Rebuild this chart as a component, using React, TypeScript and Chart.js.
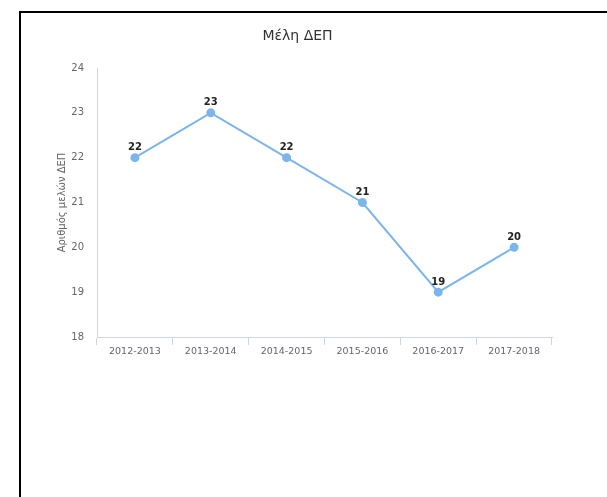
import React, { useEffect, useRef } from "react";
import { Chart, registerables } from "chart.js";

Chart.register(...registerables);

const categories = ["2012-2013", "2013-2014", "2014-2015", "2015-2016", "2016-2017", "2017-2018"];
const members = [22, 23, 22, 21, 19, 20];
const chartTitle = "Μέλη ΔΕΠ";
const yAxisTitle = "Αριθμός μελών ΔΕΠ";
const yMin = 18;
const yMax = 24;

const FONT = "'DejaVu Sans', Verdana, sans-serif";

const dataLabels = {
  id: "dataLabels",
  afterDatasetsDraw(chart: any) {
    const ctx = chart.ctx;
    const meta = chart.getDatasetMeta(0);
    const ds = chart.data.datasets[0];
    ctx.save();
    ctx.font = `bold 10px ${FONT}`;
    ctx.fillStyle = "#222";
    ctx.textAlign = "center";
    ctx.textBaseline = "middle";
    meta.data.forEach((pt: any, i: number) => {
      ctx.fillText(String(ds.data[i]), pt.x, pt.y - 10);
    });
    ctx.restore();
  },
};

const titlePlugin = {
  id: "customTitle",
  afterDraw(chart: any) {
    const ctx = chart.ctx;
    ctx.save();
    ctx.font = `14px ${FONT}`;
    ctx.fillStyle = "#333";
    ctx.textAlign = "center";
    ctx.textBaseline = "middle";
    ctx.fillText(chartTitle, 297.5, 36);
    ctx.restore();
  },
};

export default function App() {
  const ref = useRef<HTMLCanvasElement | null>(null);
  useEffect(() => {
    if (!ref.current) return;
    const chart = new Chart(ref.current, {
      type: "line",
      data: {
        labels: categories,
        datasets: [
          {
            data: members,
            borderColor: "#7cb5ec",
            backgroundColor: "#7cb5ec",
            pointBackgroundColor: "#7cb5ec",
            pointBorderColor: "#7cb5ec",
            pointRadius: 3.5,
            borderWidth: 2,
            tension: 0,
          },
        ],
      },
      options: {
        responsive: false,
        animation: false,
        layout: { padding: { left: 50, right: 55, top: 68, bottom: 120 } },
        plugins: {
          legend: { display: false },
          tooltip: { enabled: false },
          title: { display: false },
        },
        scales: {
          x: {
            type: "category",
            offset: true,
            grid: {
              offset: true,
              drawOnChartArea: false,
              drawTicks: true,
              tickLength: 8,
              color: "#ccd6eb",
            },
            border: { display: true, color: "#ccd6eb", width: 1 },
            ticks: {
              color: "#666",
              font: { family: FONT, size: 9.5 },
              padding: 1,
              maxRotation: 0,
              autoSkip: false,
            },
            afterFit(scale: any) {
              scale.height = 40;
            },
          },
          y: {
            min: yMin,
            max: yMax,
            grid: { display: false, drawTicks: false },
            border: { display: true, color: "#ccd6eb", width: 1 },
            ticks: {
              stepSize: 1,
              color: "#666",
              font: { family: FONT, size: 10 },
              padding: 13,
            },
            title: {
              display: true,
              text: yAxisTitle,
              color: "#666",
              font: { family: FONT, size: 10 },
              padding: { top: 6, bottom: 0 },
            },
            afterFit(scale: any) {
              scale.width = 47;
            },
          },
        },
      },
      plugins: [dataLabels, titlePlugin],
    });
    return () => chart.destroy();
  }, []);

  return (
    <div>
      <canvas
        ref={ref}
        width={607}
        height={497}
        style={{ position: "fixed", left: 0, top: 0, width: 607, height: 497, background: "#fff" }}
      />
      <div
        style={{
          position: "fixed",
          left: 19,
          top: 11,
          width: 700,
          height: 600,
          border: "2px solid #000",
          boxSizing: "border-box",
          pointerEvents: "none",
        }}
      />
    </div>
  );
}
